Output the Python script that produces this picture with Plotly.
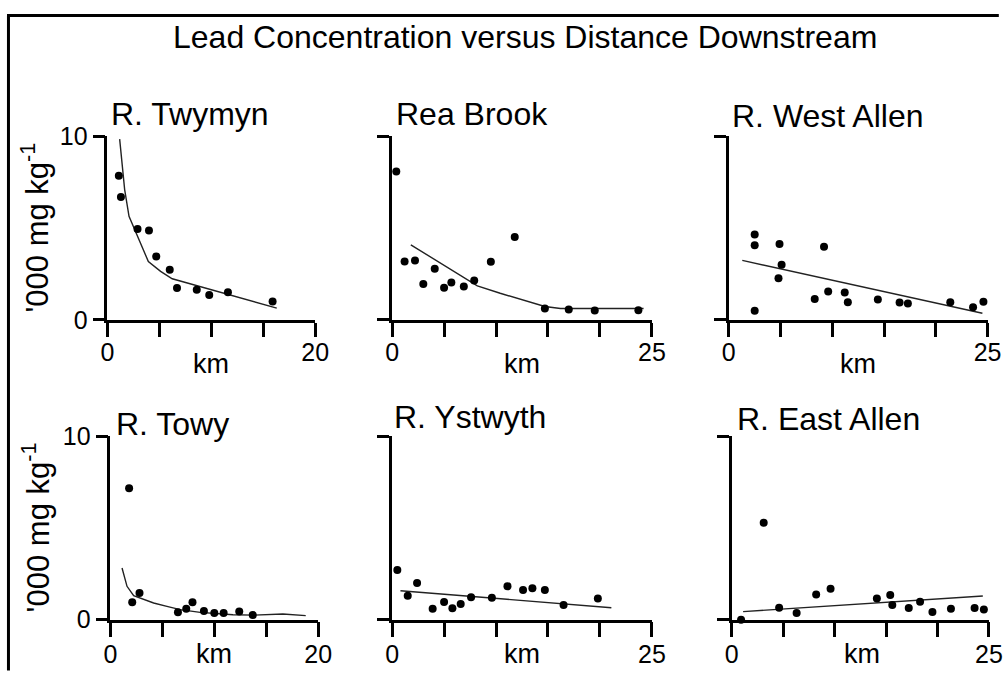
import plotly.graph_objects as go

# Figure size (pixels)
W, H = 1003, 678

# The photographed page comes out slightly scaled/offset; these map a wanted
# picture position back to a figure pixel (measured from earlier renders)
AX, BX = 0.98, 6.5
AY, BY = 0.956, 15.0

TITLE = "Lead Concentration versus Distance Downstream"
Y_TITLE = "'000 mg kg<sup>-1</sup>"

RIVERS = ["R. Twymyn", "Rea Brook", "R. West Allen", "R. Towy", "R. Ystwyth", "R. East Allen"]
X_MAX = [20, 25, 25, 20, 25, 25]

# Observed lead concentrations ('000 mg/kg) against distance downstream (km)
twymyn_km = [1.1, 1.3, 2.9, 4.0, 4.7, 6.0, 6.7, 8.6, 9.8, 11.6, 15.9]
twymyn_pb = [7.85, 6.7, 4.95, 4.87, 3.45, 2.73, 1.73, 1.64, 1.36, 1.51, 1.0]
twymyn_fit_km = [1.18, 1.66, 2.08, 3.94, 5.12, 6.24, 16.3]
twymyn_fit_pb = [9.85, 7.1, 5.64, 3.18, 2.64, 2.24, 0.64]

rea_km = [0.4, 1.2, 2.2, 3.0, 4.1, 5.0, 5.7, 6.9, 7.9, 9.5, 11.8, 14.7, 17.0, 19.5, 23.7]
rea_pb = [8.09, 3.18, 3.24, 1.95, 2.78, 1.75, 2.04, 1.82, 2.15, 3.16, 4.51, 0.62, 0.56, 0.51, 0.53]
rea_fit_km = [1.8, 8.2, 10.4, 13.0, 14.7, 16.2, 24.2]
rea_fit_pb = [4.09, 1.85, 1.45, 1.0, 0.73, 0.62, 0.62]

west_km = [2.5, 2.5, 2.5, 4.9, 5.1, 4.8, 9.2, 8.3, 9.6, 11.2, 11.5, 14.4, 16.5, 17.3, 21.4, 23.6, 24.6]
west_pb = [4.65, 4.07, 0.49, 4.13, 3.0, 2.27, 3.98, 1.13, 1.55, 1.49, 0.96, 1.11, 0.95, 0.89, 0.96, 0.69, 0.98]
west_fit_km = [1.3, 24.5]
west_fit_pb = [3.24, 0.36]

towy_km = [1.8, 2.1, 2.8, 6.5, 7.3, 7.9, 9.0, 10.0, 10.9, 12.4, 13.7]
towy_pb = [7.16, 0.95, 1.45, 0.4, 0.6, 0.95, 0.47, 0.36, 0.36, 0.45, 0.25]
towy_fit_km = [1.12, 1.6, 2.24, 3.2, 4.16, 5.44, 6.72, 8.64, 10.2, 11.8, 13.8, 16.6, 18.8]
towy_fit_pb = [2.82, 1.82, 1.31, 1.09, 0.91, 0.73, 0.55, 0.4, 0.33, 0.27, 0.25, 0.31, 0.22]

ystwyth_km = [0.5, 1.5, 2.4, 3.9, 5.0, 5.8, 6.6, 7.6, 9.6, 11.1, 12.6, 13.5, 14.7, 16.5, 19.8]
ystwyth_pb = [2.71, 1.31, 2.0, 0.6, 0.96, 0.62, 0.85, 1.22, 1.2, 1.82, 1.62, 1.71, 1.62, 0.8, 1.15]
ystwyth_fit_km = [0.8, 21.1]
ystwyth_fit_pb = [1.58, 0.65]

east_km = [0.9, 3.1, 4.6, 6.3, 8.2, 9.6, 14.1, 15.4, 15.6, 17.2, 18.3, 19.5, 21.3, 23.6, 24.5]
east_pb = [0.0, 5.29, 0.65, 0.36, 1.38, 1.69, 1.15, 1.35, 0.8, 0.64, 0.98, 0.42, 0.6, 0.64, 0.56]
east_fit_km = [1.1, 24.4]
east_fit_pb = [0.44, 1.29]

points = [(twymyn_km, twymyn_pb), (rea_km, rea_pb), (west_km, west_pb),
          (towy_km, towy_pb), (ystwyth_km, ystwyth_pb), (east_km, east_pb)]
fits = [(twymyn_fit_km, twymyn_fit_pb), (rea_fit_km, rea_fit_pb), (west_fit_km, west_fit_pb),
        (towy_fit_km, towy_fit_pb), (ystwyth_fit_km, ystwyth_fit_pb), (east_fit_km, east_fit_pb)]

# Panel boxes as wanted in the picture: (left, right, bottom, top)
boxes = [(107, 315, 320, 137), (392, 652, 320, 137), (729, 988, 320, 137),
         (110, 318, 619, 436), (392, 652, 619, 436), (732, 992, 619, 436)]
# where each river name sits (left edge, baseline)
title_pos = [(112, 126), (397, 126), (733, 128), (117, 435), (395, 428), (738, 430)]

FONT = "Liberation Sans, Arial, sans-serif"
TITLE_SIZE = 32


def fig_x(t):
    return (t - BX) / AX


def fig_y(t):
    return (t - BY) / AY


def px_x(t):
    return min(max(fig_x(t) / W, 0), 1)


def px_y(t):
    return min(max(1 - fig_y(t) / H, 0), 1)


fig = go.Figure()
annotations = []

for i, (name, xmax, (xs, ys), (fx, fy), box, tpos) in enumerate(
        zip(RIVERS, X_MAX, points, fits, boxes, title_pos)):
    n = "" if i == 0 else str(i + 1)
    left, right, bottom, top = box

    fig.add_trace(go.Scatter(
        x=fx, y=fy, mode="lines", line=dict(color="#222", width=1.4),
        xaxis="x" + n, yaxis="y" + n, cliponaxis=False, hoverinfo="skip"
    ))
    fig.add_trace(go.Scatter(
        x=xs, y=ys, mode="markers", marker=dict(color="black", size=8),
        xaxis="x" + n, yaxis="y" + n, cliponaxis=False
    ))

    fig.layout["xaxis" + n] = dict(
        domain=[px_x(left), px_x(right)], anchor="y" + n, range=[0, xmax],
        tickvals=[0, xmax], ticks="outside", ticklen=14.5, tickwidth=2.5,
        tickcolor="black", showline=True, linewidth=2.5, linecolor="black",
        minor=dict(dtick=5, tick0=0, ticks="outside", ticklen=14.5, tickwidth=2.5,
                   tickcolor="black", showgrid=False),
        ticklabelstandoff=-6 if i < 3 else -4,
        showgrid=False, zeroline=False, tickfont=dict(size=25, family=FONT, color="black"),
    )
    fig.layout["yaxis" + n] = dict(
        domain=[px_y(bottom), px_y(top)], anchor="x" + n, range=[0, 10],
        tickvals=[0, 10], ticks="outside", ticklen=12, tickwidth=2.5,
        tickcolor="black", showline=True, linewidth=2.5, linecolor="black",
        showgrid=False, zeroline=False, showticklabels=(i % 3 == 0),
        tickfont=dict(size=25, family=FONT, color="black"),
    )

    # panel title: bottom of text box sits a little under the baseline
    annotations.append(dict(
        text=name, x=(fig_x(tpos[0]) - 3) / W, y=1 - (fig_y(tpos[1]) + 0.28 * TITLE_SIZE) / H,
        xref="paper", yref="paper", xanchor="left", yanchor="bottom", showarrow=False,
        font=dict(size=TITLE_SIZE, family=FONT, color="black"),
    ))
    # km label (the bottom row one is kept inside the figure)
    km_y = 1 - min(fig_y(bottom + 44), H - 10) / H
    annotations.append(dict(
        text="km", x=px_x((left + right) / 2), y=km_y, xref="paper", yref="paper",
        xanchor="center", yanchor="middle", showarrow=False,
        font=dict(size=27, family=FONT, color="black"),
    ))
    if i % 3 == 0:
        annotations.append(dict(
            text=Y_TITLE, x=px_x(35), y=px_y((top + bottom) / 2 - 1), xref="paper", yref="paper",
            xanchor="center", yanchor="middle", textangle=-90, showarrow=False,
            font=dict(size=31, family=FONT, color="black"),
        ))

annotations.append(dict(
    text=TITLE, x=px_x(524.5), y=px_y(37.5), xref="paper", yref="paper",
    xanchor="center", yanchor="middle", showarrow=False,
    font=dict(size=32, family=FONT, color="black"),
))

fig.update_layout(
    width=W, height=H,
    margin=dict(l=0, r=0, t=0, b=0),
    paper_bgcolor="white", plot_bgcolor="white",
    showlegend=False,
    annotations=annotations,
    # outer frame: only its left and top sides show in the picture
    shapes=[
        dict(type="line", xref="paper", yref="paper", x0=1.5 / W, x1=1.5 / W,
             y0=-0.01, y1=1 - 1.5 / H, line=dict(color="black", width=3)),
        dict(type="line", xref="paper", yref="paper", x0=0, x1=1.01,
             y0=1 - 1.5 / H, y1=1 - 1.5 / H, line=dict(color="black", width=3)),
    ],
)

fig.write_html("out.html", config={"displayModeBar": False},
               post_script="document.body.style.margin='0';document.body.style.overflow='hidden';")
